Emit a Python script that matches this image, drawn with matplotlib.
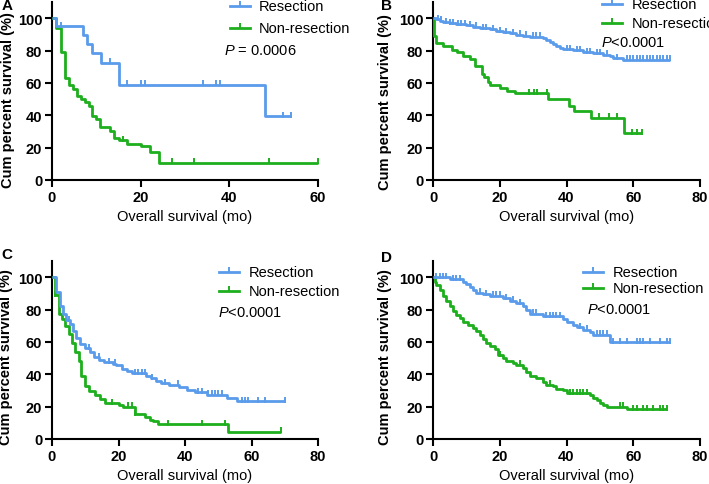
import numpy as np
import matplotlib
matplotlib.use('Agg')
import matplotlib.pyplot as plt

plt.rcParams['font.family'] = ['Liberation Sans', 'DejaVu Sans']
plt.rcParams['mathtext.fontset'] = 'custom'
plt.rcParams['mathtext.it'] = 'Liberation Sans:italic'
plt.rcParams['mathtext.rm'] = 'Liberation Sans'

BLUE = '#5A9CEB'
GREEN = '#1DAF1D'

# ---- Panel A ----
A_res_t = [0, 1, 7, 8, 9, 11, 15, 48]
A_res_s = [100, 95, 89.5, 84, 78.5, 72.5, 59, 39.5]
A_res_cens = [2, 13, 17, 20, 21, 34, 37, 38, 52, 54]
A_res_end = 54
A_non_t = [0, 0.8, 2, 3, 3.8, 4.7, 5.6, 6.5, 7.5, 8.4, 9, 10, 10.9, 13, 14, 15, 17, 20, 22, 24.1]
A_non_s = [100, 94, 79, 63, 59, 56, 52, 50, 48, 45.5, 39.5, 37.5, 32.5, 30.5, 26, 24.5, 22.5, 21, 17, 10.7]
A_non_cens = [16, 27, 32, 49, 60]
A_non_end = 60

# ---- Panel B ----
B_res_t = [0, 1, 2, 3, 5, 7, 10, 12, 14, 17, 19, 21, 23, 25, 27, 29, 33, 34, 35, 36,
           37, 38, 39, 42, 45, 48, 51, 53, 54, 57]
B_res_s = [100, 99.2, 98.4, 97.7, 97.0, 96.5, 95.8, 94.8, 94.0, 93.3, 92.2, 91.5, 90.6, 89.8,
           89.2, 88.5, 87.6, 86.5, 85.5, 84.2, 83.0, 81.7, 80.8, 80.1, 79.2, 78.3, 77.5, 76.4,
           75.3, 74.3]
B_res_cens = [1.5, 2.5, 4, 5, 6, 7.5, 8.5, 9.5, 11, 13, 15, 16, 18, 20, 22, 24, 26, 28, 30,
              31, 32, 40, 41, 43, 44, 46, 47, 49, 50, 52, 55, 58, 59, 60, 61, 62, 63, 64, 65,
              66, 67, 68, 69, 70, 71]
B_res_end = 71
B_non_t = [0, 0.3, 1.0, 3.1, 5.6, 7.1, 9.1, 11.1, 12.6, 14.6, 15.3, 16.6, 17.1, 20, 22.1,
           24.6, 34.6, 40.7, 42.2, 47.2, 57.2]
B_non_s = [100, 89, 84.5, 83, 80.2, 78.8, 76.7, 74.6, 70.5, 65.4, 63.4, 60.3, 58.9, 56.9,
           55.2, 53.6, 50.2, 46, 42.5, 38.5, 29]
B_non_cens = [28.7, 30.2, 31.2, 34.2, 49.7, 52.7, 55.2, 59.5, 61, 62.5]
B_non_end = 62.5

# ---- Panel C ----
C_res_t = [0, 1.1, 2.3, 3.3, 4.3, 5.3, 6.3, 7.3, 8.3, 9.8, 11.3, 12.7, 14.2, 15.7, 18.2,
           19.2, 21.2, 22.7, 24.2, 28.2, 29.7, 31.2, 32.7, 35.2, 38.1, 40.6, 43.1, 46.6,
           52.6, 55.6]
C_res_s = [100, 91, 82, 77.5, 73.5, 71, 67, 62.5, 58.5, 56, 54, 50.5, 49, 47.5, 46.5, 45.5,
           43.5, 42, 40.5, 39, 37.5, 36, 34.5, 33.5, 32, 30.5, 29, 27.5, 25.5, 23.5]
C_res_cens = [5, 11, 14, 17, 19, 25, 26, 27, 28, 30, 34, 38, 44, 45, 47, 48, 49, 50, 51,
              57, 58, 59, 62, 64, 70]
C_res_end = 70
C_non_t = [0, 1, 2, 3, 4, 5, 6, 7, 8, 8.8, 10, 11, 13, 14.5, 16, 20, 21.5, 25, 28, 29.5,
           30.5, 32, 53]
C_non_s = [100, 89, 77, 74, 70, 65, 59.5, 54, 48.5, 39, 33, 29.5, 27.5, 25, 22, 21, 20,
           15.5, 13.5, 11.5, 11, 9, 4.5]
C_non_cens = [1, 18, 23, 24, 25, 35, 45, 52, 69]
C_non_end = 69

# ---- Panel D ----
D_res_t = [0, 5, 9, 10, 11, 12, 13, 15, 17, 21, 23, 25, 27, 28, 29, 33, 39, 40, 42, 43,
           45, 47, 48, 53]
D_res_s = [100, 99, 97, 96, 94, 92, 90.5, 89.5, 88.5, 87, 85.5, 84, 82, 80, 77.5, 76, 74,
           72.5, 70.5, 69, 67.5, 66, 64.5, 60]
D_res_cens = [1, 2, 3, 4, 6, 7, 8, 14, 16, 18, 19, 20, 22, 24, 26, 30, 31, 34, 35, 36, 37,
              38, 44, 46, 49, 50, 51, 52, 54, 56, 58, 61, 62, 63, 65, 68, 70, 71]
D_res_end = 71
D_non_t = [0, 0.5, 1, 2, 3, 4, 5, 6, 7, 8, 9, 10.5, 12, 13, 14, 15, 16, 17, 18.5, 19.5,
           21, 22, 24, 25, 27, 28, 29, 31, 33, 34, 36, 37, 39, 40, 47, 48, 49, 50, 51, 52, 58]
D_non_s = [100, 97, 95, 92, 88.5, 85.5, 82, 79, 76.5, 74.5, 72.5, 70.5, 68.5, 66.5, 64,
           61.5, 59.5, 57.5, 55.5, 52, 50, 48.5, 47, 46, 44, 41.5, 39, 37.5, 35.5, 33.5,
           32.5, 31, 30, 28.5, 27.5, 25.5, 24, 22.5, 21, 20, 18.5]
D_non_cens = [20, 26, 35, 41, 42, 43, 44, 45, 46, 56, 57, 60, 61, 63, 64, 66, 68, 69, 70]
D_non_end = 70

labels = ['Resection', 'Non-resection']
p_texts = [r'$\it{P}$ = 0.0006', r'$\it{P}$<0.0001', r'$\it{P}$<0.0001', r'$\it{P}$<0.0001']


def km(ax, t, s, cens, end, color):
    t = np.array(t, dtype=float)
    s = np.array(s, dtype=float)
    x = np.append(t, end)
    y = np.append(s, s[-1])
    ax.plot(x, y, drawstyle='steps-post', color=color, lw=2.0, solid_capstyle='butt',
            clip_on=False, zorder=3)
    c = np.array(cens, dtype=float)
    cy = s[np.searchsorted(t, c, side='right') - 1]
    ax.plot(c, cy + 0.8, ls='none', marker='|', ms=4.5, mew=1.4, color=color,
            clip_on=False, zorder=3)


def key(ax, x, y, color, text):
    ax.plot([x, x + 0.075], [y, y], transform=ax.transAxes, color=color, lw=2.0,
            clip_on=False)
    ax.plot([x + 0.0375], [y + 0.012], transform=ax.transAxes, marker='|', ms=4,
            mew=1.4, color=color, clip_on=False)
    ax.text(x + 0.11, y, text, transform=ax.transAxes, fontsize=10.5, va='center',
            ha='left')


fig = plt.figure(figsize=(7.09, 4.85), dpi=100)
w = 266 / 709
h = 178 / 485
axes = [
    fig.add_axes([52 / 709, 1 - 181 / 485, w, h]),
    fig.add_axes([433 / 709, 1 - 181 / 485, 267 / 709, h]),
    fig.add_axes([52 / 709, 1 - 440 / 485, w, h]),
    fig.add_axes([433 / 709, 1 - 440 / 485, 267 / 709, h]),
]

curves = [
    ((A_res_t, A_res_s, A_res_cens, A_res_end), (A_non_t, A_non_s, A_non_cens, A_non_end)),
    ((B_res_t, B_res_s, B_res_cens, B_res_end), (B_non_t, B_non_s, B_non_cens, B_non_end)),
    ((C_res_t, C_res_s, C_res_cens, C_res_end), (C_non_t, C_non_s, C_non_cens, C_non_end)),
    ((D_res_t, D_res_s, D_res_cens, D_res_end), (D_non_t, D_non_s, D_non_cens, D_non_end)),
]
xmaxes = [60, 80, 80, 80]
key_pos = [(0.669, 0.978, 0.854), (0.633, 0.989, 0.882),
           (0.628, 0.938, 0.831), (0.562, 0.938, 0.848)]
p_pos = [(0.647, 0.73), (0.629, 0.775), (0.624, 0.713), (0.577, 0.73)]
ylab_pos = [(-0.139, 0.455), (-0.154, 0.444), (-0.147, 0.466), (-0.154, 0.466)]
letters = ['A', 'B', 'C', 'D']
letter_pos = [(0.002, 0.987), (0.538, 0.987), (0.002, 0.474), (0.538, 0.469)]

for i, ax in enumerate(axes):
    res, non = curves[i]
    km(ax, *non, GREEN)
    km(ax, *res, BLUE)
    ax.set_xlim(0, xmaxes[i])
    ax.set_ylim(0, 110)
    ax.set_xticks(np.arange(0, xmaxes[i] + 1, 20))
    ax.set_yticks(np.arange(0, 101, 20))
    for sp in ['top', 'right']:
        ax.spines[sp].set_visible(False)
    for sp in ['left', 'bottom']:
        ax.spines[sp].set_linewidth(1.5)
    ax.tick_params(direction='out', length=5, width=1.5, labelsize=10.5, pad=2)
    for lab in ax.get_xticklabels() + ax.get_yticklabels():
        lab.set_fontweight('bold')
    ax.set_xlabel('Overall survival (mo)', fontsize=10.5, labelpad=4)
    ax.set_ylabel('Cum percent survival (%)', fontsize=10.5, fontweight='bold')
    ax.yaxis.set_label_coords(*ylab_pos[i])
    kx, ky1, ky2 = key_pos[i]
    key(ax, kx, ky1, BLUE, labels[0])
    key(ax, kx, ky2, GREEN, labels[1])
    ax.text(p_pos[i][0], p_pos[i][1], p_texts[i], transform=ax.transAxes, fontsize=10.5,
            va='center', ha='left')
    fig.text(letter_pos[i][0], letter_pos[i][1], letters[i], fontsize=11,
             fontweight='bold', ha='left', va='center')

fig.savefig('out.png', dpi=100)
